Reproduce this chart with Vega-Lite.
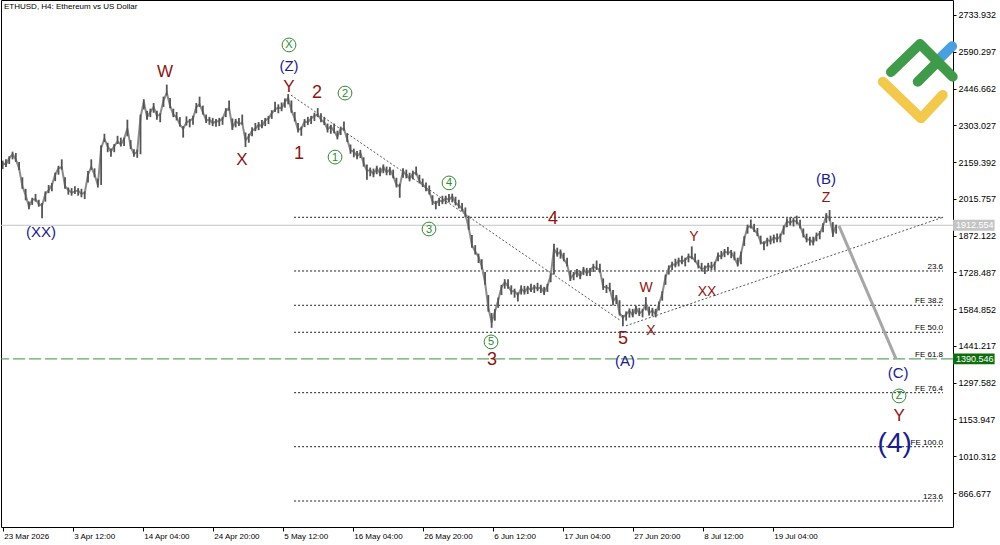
{
"$schema":"https://vega.github.io/schema/vega-lite/v6.json",
"width":952,"height":527,"autosize":"none",
"padding":{"left":1,"top":0,"right":47,"bottom":18},
"background":"#ffffff",
"config":{"view":{"stroke":"#000000","strokeWidth":1},"font":"Liberation Sans"},
"datasets":{
"bars":[
{"d":"2026-03-23T20:00Z","h":2165,"l":2132,"c":2155},
{"d":"2026-03-24T08:00Z","h":2170,"l":2140,"c":2150},
{"d":"2026-03-24T20:00Z","h":2182,"l":2152,"c":2175},
{"d":"2026-03-25T08:00Z","h":2200,"l":2170,"c":2190},
{"d":"2026-03-25T20:00Z","h":2195,"l":2160,"c":2170},
{"d":"2026-03-26T08:00Z","h":2160,"l":2128,"c":2135},
{"d":"2026-03-26T20:00Z","h":2100,"l":2055,"c":2065},
{"d":"2026-03-27T08:00Z","h":2055,"l":2010,"c":2030},
{"d":"2026-03-27T20:00Z","h":2005,"l":1975,"c":1985},
{"d":"2026-03-28T08:00Z","h":2020,"l":1992,"c":2012},
{"d":"2026-03-28T20:00Z","h":2035,"l":2005,"c":2015},
{"d":"2026-03-29T08:00Z","h":2012,"l":1985,"c":1995},
{"d":"2026-03-29T20:00Z","h":2000,"l":1940,"c":1990},
{"d":"2026-03-30T08:00Z","h":2045,"l":2005,"c":2035},
{"d":"2026-03-30T20:00Z","h":2070,"l":2038,"c":2050},
{"d":"2026-03-31T08:00Z","h":2078,"l":2045,"c":2070},
{"d":"2026-03-31T20:00Z","h":2118,"l":2085,"c":2110},
{"d":"2026-04-01T08:00Z","h":2145,"l":2110,"c":2135},
{"d":"2026-04-01T20:00Z","h":2170,"l":2130,"c":2140},
{"d":"2026-04-02T08:00Z","h":2100,"l":2055,"c":2065},
{"d":"2026-04-02T20:00Z","h":2060,"l":2032,"c":2050},
{"d":"2026-04-03T08:00Z","h":2058,"l":2028,"c":2040},
{"d":"2026-04-03T20:00Z","h":2065,"l":2035,"c":2045},
{"d":"2026-04-04T08:00Z","h":2058,"l":2028,"c":2048},
{"d":"2026-04-04T20:00Z","h":2055,"l":2022,"c":2035},
{"d":"2026-04-05T08:00Z","h":2045,"l":2015,"c":2040},
{"d":"2026-04-05T20:00Z","h":2125,"l":2080,"c":2110},
{"d":"2026-04-06T08:00Z","h":2170,"l":2130,"c":2140},
{"d":"2026-04-06T20:00Z","h":2135,"l":2100,"c":2110},
{"d":"2026-04-07T08:00Z","h":2095,"l":2060,"c":2070},
{"d":"2026-04-07T20:00Z","h":2225,"l":2070,"c":2215},
{"d":"2026-04-08T08:00Z","h":2270,"l":2238,"c":2250},
{"d":"2026-04-08T20:00Z","h":2235,"l":2198,"c":2220},
{"d":"2026-04-09T08:00Z","h":2212,"l":2180,"c":2200},
{"d":"2026-04-09T20:00Z","h":2230,"l":2198,"c":2222},
{"d":"2026-04-10T08:00Z","h":2262,"l":2230,"c":2240},
{"d":"2026-04-10T20:00Z","h":2255,"l":2220,"c":2228},
{"d":"2026-04-11T08:00Z","h":2255,"l":2222,"c":2250},
{"d":"2026-04-11T20:00Z","h":2325,"l":2260,"c":2290},
{"d":"2026-04-12T08:00Z","h":2245,"l":2210,"c":2220},
{"d":"2026-04-12T20:00Z","h":2210,"l":2180,"c":2190},
{"d":"2026-04-13T08:00Z","h":2208,"l":2176,"c":2200},
{"d":"2026-04-13T20:00Z","h":2345,"l":2190,"c":2335},
{"d":"2026-04-14T08:00Z","h":2405,"l":2365,"c":2395},
{"d":"2026-04-14T20:00Z","h":2360,"l":2325,"c":2335},
{"d":"2026-04-15T08:00Z","h":2368,"l":2335,"c":2355},
{"d":"2026-04-15T20:00Z","h":2390,"l":2352,"c":2375},
{"d":"2026-04-16T08:00Z","h":2360,"l":2325,"c":2340},
{"d":"2026-04-16T20:00Z","h":2350,"l":2315,"c":2345},
{"d":"2026-04-17T08:00Z","h":2415,"l":2375,"c":2400},
{"d":"2026-04-17T20:00Z","h":2462,"l":2420,"c":2430},
{"d":"2026-04-18T08:00Z","h":2410,"l":2370,"c":2380},
{"d":"2026-04-18T20:00Z","h":2368,"l":2335,"c":2345},
{"d":"2026-04-19T08:00Z","h":2355,"l":2322,"c":2335},
{"d":"2026-04-19T20:00Z","h":2335,"l":2298,"c":2305},
{"d":"2026-04-20T08:00Z","h":2300,"l":2255,"c":2290},
{"d":"2026-04-20T20:00Z","h":2338,"l":2302,"c":2315},
{"d":"2026-04-21T08:00Z","h":2328,"l":2295,"c":2320},
{"d":"2026-04-21T20:00Z","h":2340,"l":2305,"c":2330},
{"d":"2026-04-22T08:00Z","h":2390,"l":2350,"c":2375},
{"d":"2026-04-22T20:00Z","h":2415,"l":2375,"c":2385},
{"d":"2026-04-23T08:00Z","h":2380,"l":2345,"c":2355},
{"d":"2026-04-23T20:00Z","h":2345,"l":2312,"c":2322},
{"d":"2026-04-24T08:00Z","h":2336,"l":2305,"c":2325},
{"d":"2026-04-24T20:00Z","h":2332,"l":2300,"c":2312},
{"d":"2026-04-25T08:00Z","h":2328,"l":2297,"c":2318},
{"d":"2026-04-25T20:00Z","h":2332,"l":2300,"c":2320},
{"d":"2026-04-26T08:00Z","h":2336,"l":2305,"c":2328},
{"d":"2026-04-26T20:00Z","h":2370,"l":2335,"c":2360},
{"d":"2026-04-27T08:00Z","h":2400,"l":2360,"c":2370},
{"d":"2026-04-27T20:00Z","h":2330,"l":2285,"c":2295},
{"d":"2026-04-28T08:00Z","h":2328,"l":2295,"c":2318},
{"d":"2026-04-28T20:00Z","h":2332,"l":2300,"c":2310},
{"d":"2026-04-29T08:00Z","h":2345,"l":2305,"c":2312},
{"d":"2026-04-29T20:00Z","h":2275,"l":2218,"c":2245},
{"d":"2026-04-30T08:00Z","h":2270,"l":2235,"c":2260},
{"d":"2026-04-30T20:00Z","h":2295,"l":2260,"c":2282},
{"d":"2026-05-01T08:00Z","h":2312,"l":2280,"c":2290},
{"d":"2026-05-01T20:00Z","h":2316,"l":2284,"c":2305},
{"d":"2026-05-02T08:00Z","h":2324,"l":2292,"c":2300},
{"d":"2026-05-02T20:00Z","h":2332,"l":2300,"c":2322},
{"d":"2026-05-03T08:00Z","h":2340,"l":2308,"c":2330},
{"d":"2026-05-03T20:00Z","h":2362,"l":2328,"c":2350},
{"d":"2026-05-04T08:00Z","h":2395,"l":2355,"c":2365},
{"d":"2026-05-04T20:00Z","h":2385,"l":2350,"c":2372},
{"d":"2026-05-05T08:00Z","h":2392,"l":2358,"c":2370},
{"d":"2026-05-05T20:00Z","h":2408,"l":2372,"c":2395},
{"d":"2026-05-06T08:00Z","h":2425,"l":2385,"c":2410},
{"d":"2026-05-06T20:00Z","h":2400,"l":2352,"c":2360},
{"d":"2026-05-07T08:00Z","h":2355,"l":2318,"c":2330},
{"d":"2026-05-07T20:00Z","h":2312,"l":2275,"c":2285},
{"d":"2026-05-08T08:00Z","h":2298,"l":2262,"c":2290},
{"d":"2026-05-08T20:00Z","h":2328,"l":2296,"c":2318},
{"d":"2026-05-09T08:00Z","h":2336,"l":2304,"c":2315},
{"d":"2026-05-09T20:00Z","h":2340,"l":2308,"c":2330},
{"d":"2026-05-10T08:00Z","h":2352,"l":2320,"c":2340},
{"d":"2026-05-10T20:00Z","h":2370,"l":2335,"c":2345},
{"d":"2026-05-11T08:00Z","h":2350,"l":2315,"c":2325},
{"d":"2026-05-11T20:00Z","h":2336,"l":2304,"c":2315},
{"d":"2026-05-12T08:00Z","h":2310,"l":2275,"c":2288},
{"d":"2026-05-12T20:00Z","h":2305,"l":2270,"c":2298},
{"d":"2026-05-13T08:00Z","h":2310,"l":2272,"c":2280},
{"d":"2026-05-13T20:00Z","h":2282,"l":2248,"c":2258},
{"d":"2026-05-14T08:00Z","h":2298,"l":2265,"c":2290},
{"d":"2026-05-14T20:00Z","h":2318,"l":2282,"c":2290},
{"d":"2026-05-15T08:00Z","h":2272,"l":2238,"c":2248},
{"d":"2026-05-15T20:00Z","h":2228,"l":2192,"c":2205},
{"d":"2026-05-16T08:00Z","h":2212,"l":2178,"c":2200},
{"d":"2026-05-16T20:00Z","h":2203,"l":2170,"c":2182},
{"d":"2026-05-17T08:00Z","h":2207,"l":2175,"c":2195},
{"d":"2026-05-17T20:00Z","h":2178,"l":2142,"c":2155},
{"d":"2026-05-18T08:00Z","h":2150,"l":2090,"c":2125},
{"d":"2026-05-18T20:00Z","h":2138,"l":2104,"c":2128},
{"d":"2026-05-19T08:00Z","h":2134,"l":2100,"c":2112},
{"d":"2026-05-19T20:00Z","h":2145,"l":2112,"c":2135},
{"d":"2026-05-20T08:00Z","h":2138,"l":2104,"c":2115},
{"d":"2026-05-20T20:00Z","h":2150,"l":2116,"c":2140},
{"d":"2026-05-21T08:00Z","h":2142,"l":2108,"c":2120},
{"d":"2026-05-21T20:00Z","h":2140,"l":2108,"c":2130},
{"d":"2026-05-22T08:00Z","h":2130,"l":2096,"c":2105},
{"d":"2026-05-22T20:00Z","h":2098,"l":2060,"c":2070},
{"d":"2026-05-23T08:00Z","h":2075,"l":2020,"c":2065},
{"d":"2026-05-23T20:00Z","h":2135,"l":2098,"c":2125},
{"d":"2026-05-24T08:00Z","h":2130,"l":2096,"c":2108},
{"d":"2026-05-24T20:00Z","h":2118,"l":2084,"c":2095},
{"d":"2026-05-25T08:00Z","h":2126,"l":2092,"c":2115},
{"d":"2026-05-25T20:00Z","h":2142,"l":2108,"c":2118},
{"d":"2026-05-26T08:00Z","h":2110,"l":2076,"c":2085},
{"d":"2026-05-26T20:00Z","h":2095,"l":2062,"c":2072},
{"d":"2026-05-27T08:00Z","h":2080,"l":2045,"c":2058},
{"d":"2026-05-27T20:00Z","h":2068,"l":2033,"c":2045},
{"d":"2026-05-28T08:00Z","h":2030,"l":1992,"c":2005},
{"d":"2026-05-28T20:00Z","h":2008,"l":1975,"c":1998},
{"d":"2026-05-29T08:00Z","h":2020,"l":1988,"c":2010},
{"d":"2026-05-29T20:00Z","h":2028,"l":1995,"c":2005},
{"d":"2026-05-30T08:00Z","h":2028,"l":1995,"c":2018},
{"d":"2026-05-30T20:00Z","h":2035,"l":2002,"c":2012},
{"d":"2026-05-31T08:00Z","h":2036,"l":2002,"c":2025},
{"d":"2026-05-31T20:00Z","h":2024,"l":1990,"c":2000},
{"d":"2026-06-01T08:00Z","h":2012,"l":1978,"c":1990},
{"d":"2026-06-01T20:00Z","h":2000,"l":1966,"c":1978},
{"d":"2026-06-02T08:00Z","h":1982,"l":1945,"c":1955},
{"d":"2026-06-02T20:00Z","h":1950,"l":1895,"c":1905},
{"d":"2026-06-03T08:00Z","h":1875,"l":1825,"c":1835},
{"d":"2026-06-03T20:00Z","h":1835,"l":1798,"c":1810},
{"d":"2026-06-04T08:00Z","h":1802,"l":1765,"c":1790},
{"d":"2026-06-04T20:00Z","h":1780,"l":1740,"c":1752},
{"d":"2026-06-05T08:00Z","h":1730,"l":1680,"c":1690},
{"d":"2026-06-05T20:00Z","h":1640,"l":1575,"c":1590},
{"d":"2026-06-06T08:00Z","h":1570,"l":1512,"c":1535},
{"d":"2026-06-06T20:00Z","h":1585,"l":1540,"c":1575},
{"d":"2026-06-07T08:00Z","h":1630,"l":1590,"c":1620},
{"d":"2026-06-07T20:00Z","h":1680,"l":1640,"c":1670},
{"d":"2026-06-08T08:00Z","h":1702,"l":1665,"c":1690},
{"d":"2026-06-08T20:00Z","h":1702,"l":1665,"c":1675},
{"d":"2026-06-09T08:00Z","h":1678,"l":1642,"c":1655},
{"d":"2026-06-09T20:00Z","h":1665,"l":1630,"c":1655},
{"d":"2026-06-10T08:00Z","h":1650,"l":1615,"c":1640},
{"d":"2026-06-10T20:00Z","h":1678,"l":1642,"c":1665},
{"d":"2026-06-11T08:00Z","h":1676,"l":1642,"c":1652},
{"d":"2026-06-11T20:00Z","h":1676,"l":1644,"c":1668},
{"d":"2026-06-12T08:00Z","h":1684,"l":1652,"c":1660},
{"d":"2026-06-12T20:00Z","h":1680,"l":1648,"c":1672},
{"d":"2026-06-13T08:00Z","h":1688,"l":1655,"c":1665},
{"d":"2026-06-13T20:00Z","h":1680,"l":1648,"c":1670},
{"d":"2026-06-14T08:00Z","h":1672,"l":1640,"c":1650},
{"d":"2026-06-14T20:00Z","h":1684,"l":1652,"c":1675},
{"d":"2026-06-15T08:00Z","h":1725,"l":1690,"c":1715},
{"d":"2026-06-15T20:00Z","h":1840,"l":1720,"c":1820},
{"d":"2026-06-16T08:00Z","h":1825,"l":1790,"c":1800},
{"d":"2026-06-16T20:00Z","h":1818,"l":1782,"c":1808},
{"d":"2026-06-17T08:00Z","h":1805,"l":1772,"c":1780},
{"d":"2026-06-17T20:00Z","h":1786,"l":1752,"c":1760},
{"d":"2026-06-18T08:00Z","h":1735,"l":1695,"c":1705},
{"d":"2026-06-18T20:00Z","h":1730,"l":1698,"c":1720},
{"d":"2026-06-19T08:00Z","h":1742,"l":1710,"c":1730},
{"d":"2026-06-19T20:00Z","h":1735,"l":1702,"c":1712},
{"d":"2026-06-20T08:00Z","h":1750,"l":1718,"c":1740},
{"d":"2026-06-20T20:00Z","h":1746,"l":1714,"c":1725},
{"d":"2026-06-21T08:00Z","h":1746,"l":1714,"c":1738},
{"d":"2026-06-21T20:00Z","h":1762,"l":1730,"c":1750},
{"d":"2026-06-22T08:00Z","h":1775,"l":1738,"c":1745},
{"d":"2026-06-22T20:00Z","h":1762,"l":1728,"c":1738},
{"d":"2026-06-23T08:00Z","h":1705,"l":1660,"c":1672},
{"d":"2026-06-23T20:00Z","h":1680,"l":1648,"c":1670},
{"d":"2026-06-24T08:00Z","h":1688,"l":1655,"c":1665},
{"d":"2026-06-24T20:00Z","h":1660,"l":1600,"c":1615},
{"d":"2026-06-25T08:00Z","h":1640,"l":1605,"c":1632},
{"d":"2026-06-25T20:00Z","h":1620,"l":1560,"c":1568},
{"d":"2026-06-26T08:00Z","h":1562,"l":1518,"c":1552},
{"d":"2026-06-26T20:00Z","h":1576,"l":1540,"c":1565},
{"d":"2026-06-27T08:00Z","h":1588,"l":1552,"c":1578},
{"d":"2026-06-27T20:00Z","h":1586,"l":1553,"c":1562},
{"d":"2026-06-28T08:00Z","h":1598,"l":1565,"c":1590},
{"d":"2026-06-28T20:00Z","h":1590,"l":1558,"c":1568},
{"d":"2026-06-29T08:00Z","h":1586,"l":1553,"c":1578},
{"d":"2026-06-29T20:00Z","h":1632,"l":1580,"c":1605},
{"d":"2026-06-30T08:00Z","h":1595,"l":1560,"c":1570},
{"d":"2026-06-30T20:00Z","h":1590,"l":1558,"c":1580},
{"d":"2026-07-01T08:00Z","h":1586,"l":1553,"c":1564},
{"d":"2026-07-01T20:00Z","h":1615,"l":1580,"c":1605},
{"d":"2026-07-02T08:00Z","h":1655,"l":1618,"c":1645},
{"d":"2026-07-02T20:00Z","h":1720,"l":1680,"c":1710},
{"d":"2026-07-03T08:00Z","h":1756,"l":1720,"c":1745},
{"d":"2026-07-03T20:00Z","h":1770,"l":1738,"c":1760},
{"d":"2026-07-04T08:00Z","h":1782,"l":1748,"c":1758},
{"d":"2026-07-04T20:00Z","h":1786,"l":1752,"c":1775},
{"d":"2026-07-05T08:00Z","h":1794,"l":1760,"c":1770},
{"d":"2026-07-05T20:00Z","h":1786,"l":1752,"c":1778},
{"d":"2026-07-06T08:00Z","h":1802,"l":1768,"c":1790},
{"d":"2026-07-06T20:00Z","h":1830,"l":1780,"c":1788},
{"d":"2026-07-07T08:00Z","h":1802,"l":1768,"c":1775},
{"d":"2026-07-07T20:00Z","h":1778,"l":1744,"c":1755},
{"d":"2026-07-08T08:00Z","h":1766,"l":1732,"c":1742},
{"d":"2026-07-08T20:00Z","h":1755,"l":1722,"c":1745},
{"d":"2026-07-09T08:00Z","h":1766,"l":1734,"c":1755},
{"d":"2026-07-09T20:00Z","h":1770,"l":1738,"c":1748},
{"d":"2026-07-10T08:00Z","h":1770,"l":1738,"c":1762},
{"d":"2026-07-10T20:00Z","h":1806,"l":1772,"c":1795},
{"d":"2026-07-11T08:00Z","h":1812,"l":1780,"c":1790},
{"d":"2026-07-11T20:00Z","h":1820,"l":1788,"c":1810},
{"d":"2026-07-12T08:00Z","h":1828,"l":1796,"c":1805},
{"d":"2026-07-12T20:00Z","h":1816,"l":1784,"c":1808},
{"d":"2026-07-13T08:00Z","h":1810,"l":1776,"c":1785},
{"d":"2026-07-13T20:00Z","h":1786,"l":1752,"c":1760},
{"d":"2026-07-14T08:00Z","h":1810,"l":1760,"c":1800},
{"d":"2026-07-14T20:00Z","h":1870,"l":1832,"c":1860},
{"d":"2026-07-15T08:00Z","h":1915,"l":1880,"c":1905},
{"d":"2026-07-15T20:00Z","h":1935,"l":1900,"c":1910},
{"d":"2026-07-16T08:00Z","h":1918,"l":1886,"c":1895},
{"d":"2026-07-16T20:00Z","h":1902,"l":1870,"c":1880},
{"d":"2026-07-17T08:00Z","h":1872,"l":1838,"c":1848},
{"d":"2026-07-17T20:00Z","h":1850,"l":1815,"c":1840},
{"d":"2026-07-18T08:00Z","h":1864,"l":1830,"c":1855},
{"d":"2026-07-18T20:00Z","h":1872,"l":1838,"c":1850},
{"d":"2026-07-19T08:00Z","h":1876,"l":1842,"c":1866},
{"d":"2026-07-19T20:00Z","h":1880,"l":1846,"c":1858},
{"d":"2026-07-20T08:00Z","h":1880,"l":1846,"c":1870},
{"d":"2026-07-20T20:00Z","h":1912,"l":1876,"c":1900},
{"d":"2026-07-21T08:00Z","h":1940,"l":1905,"c":1928},
{"d":"2026-07-21T20:00Z","h":1945,"l":1912,"c":1922},
{"d":"2026-07-22T08:00Z","h":1942,"l":1908,"c":1932},
{"d":"2026-07-22T20:00Z","h":1950,"l":1916,"c":1926},
{"d":"2026-07-23T08:00Z","h":1934,"l":1900,"c":1910},
{"d":"2026-07-23T20:00Z","h":1900,"l":1865,"c":1875},
{"d":"2026-07-24T08:00Z","h":1880,"l":1846,"c":1858},
{"d":"2026-07-24T20:00Z","h":1868,"l":1834,"c":1856},
{"d":"2026-07-25T08:00Z","h":1868,"l":1834,"c":1845},
{"d":"2026-07-25T20:00Z","h":1884,"l":1850,"c":1872},
{"d":"2026-07-26T08:00Z","h":1890,"l":1858,"c":1880},
{"d":"2026-07-26T20:00Z","h":1920,"l":1885,"c":1910},
{"d":"2026-07-27T08:00Z","h":1960,"l":1922,"c":1950},
{"d":"2026-07-27T20:00Z","h":1972,"l":1930,"c":1940},
{"d":"2026-07-28T08:00Z","h":1925,"l":1867,"c":1880},
{"d":"2026-07-28T20:00Z","h":1915,"l":1880,"c":1912}
],
"lev":[
{"d":"2026-05-07T05:36Z","d2":"2026-08-14T02:50Z","p":1943.7},
{"d":"2026-05-07T05:36Z","d2":"2026-08-14T02:50Z","p":1734},
{"d":"2026-05-07T05:36Z","d2":"2026-08-14T02:50Z","p":1600},
{"d":"2026-05-07T05:36Z","d2":"2026-08-14T02:50Z","p":1494.5},
{"d":"2026-05-07T05:36Z","d2":"2026-08-14T02:50Z","p":1258.6},
{"d":"2026-05-07T05:36Z","d2":"2026-08-14T02:50Z","p":1047.7},
{"d":"2026-05-07T05:36Z","d2":"2026-08-14T02:50Z","p":835.6}
],
"fe":[
{"d":"2026-08-14T02:50Z","p":1734,"t":"23.6"},
{"d":"2026-08-14T02:50Z","p":1600,"t":"FE 38.2"},
{"d":"2026-08-14T02:50Z","p":1494.5,"t":"FE 50.0"},
{"d":"2026-08-14T02:50Z","p":1390.546,"t":"FE 61.8"},
{"d":"2026-08-14T02:50Z","p":1258.6,"t":"FE 76.4"},
{"d":"2026-08-14T02:50Z","p":1047.7,"t":"FE 100.0"},
{"d":"2026-08-14T02:50Z","p":835.6,"t":"123.6"}
],
"diag":[
{"g":"a","d":"2026-05-06T18:20Z","p":2421},
{"g":"a","d":"2026-06-26T01:20Z","p":1539},
{"g":"b","d":"2026-06-26T19:30Z","p":1520},
{"g":"b","d":"2026-08-14T02:50Z","p":1944}
],
"proj":[
{"d":"2026-07-29T06:20Z","p":1910},
{"d":"2026-08-06T22:50Z","p":1390.5}
],
"ann":[
{"k":"r1","t":"W","d":"2026-04-17T14:00Z","p":2511},
{"k":"r1","t":"X","d":"2026-04-29T07:00Z","p":2167.5},
{"k":"r1","t":"Y","d":"2026-05-06T11:00Z","p":2452.7},
{"k":"r1","t":"Y","d":"2026-08-07T10:00Z","p":1167.6},
{"k":"r2","t":"W","d":"2026-06-29T20:40Z","p":1667.6},
{"k":"r2","t":"X","d":"2026-06-30T15:00Z","p":1499.6},
{"k":"r2","t":"Y","d":"2026-07-07T04:10Z","p":1866.8},
{"k":"r2","t":"XX","d":"2026-07-09T03:40Z","p":1652},
{"k":"r2","t":"Z","d":"2026-07-27T06:50Z","p":2019},
{"k":"n","t":"1","d":"2026-05-07T23:30Z","p":2191},
{"k":"n","t":"2","d":"2026-05-10T17:36Z","p":2429},
{"k":"n","t":"3","d":"2026-06-06T09:30Z","p":1386},
{"k":"n","t":"4","d":"2026-06-15T16:40Z","p":1937},
{"k":"n","t":"5","d":"2026-06-26T08:30Z","p":1468},
{"k":"b","t":"(XX)","d":"2026-03-29T16:10Z","p":1886},
{"k":"b","t":"(Z)","d":"2026-05-06T11:00Z","p":2535},
{"k":"b","t":"(A)","d":"2026-06-26T16:00Z","p":1382},
{"k":"b","t":"(B)","d":"2026-07-27T06:50Z","p":2093},
{"k":"b","t":"(C)","d":"2026-08-07T06:20Z","p":1336},
{"k":"B","t":"(4)","d":"2026-08-06T18:00Z","p":1058},
{"k":"g","t":"X","d":"2026-05-06T11:00Z","p":2617},
{"k":"g","t":"2","d":"2026-05-14T23:50Z","p":2429},
{"k":"g","t":"1","d":"2026-05-13T11:24Z","p":2179},
{"k":"g","t":"4","d":"2026-05-30T20:15Z","p":2078},
{"k":"g","t":"3","d":"2026-05-27T19:00Z","p":1898},
{"k":"g","t":"5","d":"2026-06-06T05:50Z","p":1457},
{"k":"g","t":"Z","d":"2026-08-07T10:00Z","p":1246}
],
"logo":[
{"s":"y","d":"2026-08-04T22:24Z","p":2473.4},
{"s":"y","d":"2026-08-10T18:25Z","p":2330.4},
{"s":"y","d":"2026-08-14T01:35Z","p":2421.4},
{"s":"b","d":"2026-08-13T06:00Z","p":2555},
{"s":"b","d":"2026-08-15T12:00Z","p":2612},
{"s":"g1","d":"2026-08-06T04:36Z","p":2511.3},
{"s":"g1","d":"2026-08-10T14:40Z","p":2620.6},
{"s":"g1","d":"2026-08-15T14:10Z","p":2492.9},
{"s":"g2","d":"2026-08-10T06:20Z","p":2473.4},
{"s":"g2","d":"2026-08-13T07:30Z","p":2551.5}
],
"box":[
{"k":"cur","p":1912.554},
{"k":"lvl","p":1390.546}
]
},
"layer":[
{"data":{"values":[{"p":1912.554}]},
 "mark":{"type":"rule","color":"#c4c4c4","strokeWidth":1},
 "encoding":{"y":{"field":"p","type":"quantitative",
   "scale":{"domain":[734,2792.5],"nice":false,"zero":false},
   "axis":{"orient":"right","values":[866.677,1010.312,1153.947,1297.582,1441.217,1584.852,1728.487,1872.122,2015.757,2159.392,2303.027,2446.662,2590.297,2733.932],
     "format":".3f","title":null,"grid":false,"domain":false,"ticks":true,"tickSize":3,"tickColor":"#000000",
     "labelFont":"Liberation Sans","labelFontSize":9,"labelColor":"#000000","labelPadding":2,"labelBaseline":"middle","labelAlign":"left"}}}},
{"data":{"name":"lev"},
 "mark":{"type":"rule","color":"#222222","strokeDash":[2,2],"strokeWidth":1},
 "encoding":{"x":{"field":"d","type":"temporal",
   "scale":{"type":"utc","domain":[{"year":2026,"month":3,"date":23,"hours":13,"minutes":48,"utc":true},{"year":2026,"month":8,"date":15,"hours":15,"minutes":18,"utc":true}],"nice":false},
   "axis":{"orient":"bottom","title":null,"grid":false,"domain":false,"ticks":true,"tickSize":4,"tickColor":"#000000",
     "values":[{"year":2026,"month":3,"date":23,"hours":20,"utc":true},{"year":2026,"month":4,"date":3,"hours":12,"utc":true},{"year":2026,"month":4,"date":14,"hours":4,"utc":true},{"year":2026,"month":4,"date":24,"hours":20,"utc":true},{"year":2026,"month":5,"date":5,"hours":12,"utc":true},{"year":2026,"month":5,"date":16,"hours":4,"utc":true},{"year":2026,"month":5,"date":26,"hours":20,"utc":true},{"year":2026,"month":6,"date":6,"hours":12,"utc":true},{"year":2026,"month":6,"date":17,"hours":4,"utc":true},{"year":2026,"month":6,"date":27,"hours":20,"utc":true},{"year":2026,"month":7,"date":8,"hours":12,"utc":true},{"year":2026,"month":7,"date":19,"hours":4,"utc":true}],
     "labelExpr":"utcdate(datum.value)==23 && utcmonth(datum.value)==2 ? utcFormat(datum.value, '%-d %b %Y') : utcFormat(datum.value, '%-d %b %H:%M')",
     "labelFont":"Liberation Sans","labelFontSize":8,"labelColor":"#000000","labelAlign":"left","labelBaseline":"top","labelPadding":1,"labelOffset":1,"labelOverlap":false,"labelFlush":false,"labelBound":false}},
   "x2":{"field":"d2"},
   "y":{"field":"p","type":"quantitative","axis":{"title":null}}}},
{"data":{"values":[{"p":1390.546}]},
 "mark":{"type":"rule","color":"#3d8b3d","strokeDash":[12,4],"strokeWidth":1},
 "encoding":{"y":{"field":"p","type":"quantitative","axis":{"title":null}}}},
{"data":{"name":"diag"},
 "mark":{"type":"line","color":"#555555","strokeDash":[2,2],"strokeWidth":1},
 "encoding":{"x":{"field":"d","type":"temporal","axis":{"title":null}},"y":{"field":"p","type":"quantitative","axis":{"title":null}},"detail":{"field":"g"}}},
{"data":{"name":"bars"},
 "mark":{"type":"line","color":"#8c8c8c","strokeWidth":2},
 "encoding":{"x":{"field":"d","type":"temporal","axis":{"title":null}},"y":{"field":"c","type":"quantitative","axis":{"title":null}}}},
{"data":{"name":"bars"},
 "mark":{"type":"rule","color":"#555555","strokeWidth":1.8},
 "encoding":{"x":{"field":"d","type":"temporal","axis":{"title":null}},"y":{"field":"l","type":"quantitative","axis":{"title":null}},"y2":{"field":"h"}}},
{"data":{"name":"proj"},
 "mark":{"type":"line","color":"#a6a6a6","strokeWidth":3},
 "encoding":{"x":{"field":"d","type":"temporal","axis":{"title":null}},"y":{"field":"p","type":"quantitative","axis":{"title":null}}}},
{"data":{"name":"fe"},
 "mark":{"type":"text","align":"right","baseline":"alphabetic","dy":-2,"fontSize":8,"color":"#000000","font":"Liberation Sans"},
 "encoding":{"x":{"field":"d","type":"temporal","axis":{"title":null}},"y":{"field":"p","type":"quantitative","axis":{"title":null}},"text":{"field":"t"}}},
{"data":{"name":"ann"},"transform":[{"filter":"datum.k=='r1'"}],
 "mark":{"type":"text","align":"center","baseline":"middle","fontSize":17,"color":"#8c1515","font":"Liberation Sans"},
 "encoding":{"x":{"field":"d","type":"temporal","axis":{"title":null}},"y":{"field":"p","type":"quantitative","axis":{"title":null}},"text":{"field":"t"}}},
{"data":{"name":"ann"},"transform":[{"filter":"datum.k=='r2'"}],
 "mark":{"type":"text","align":"center","baseline":"middle","fontSize":14,"color":"#8c1515","font":"Liberation Sans"},
 "encoding":{"x":{"field":"d","type":"temporal","axis":{"title":null}},"y":{"field":"p","type":"quantitative","axis":{"title":null}},"text":{"field":"t"}}},
{"data":{"name":"ann"},"transform":[{"filter":"datum.k=='n'"}],
 "mark":{"type":"text","align":"center","baseline":"middle","fontSize":18,"color":"#8c1515","font":"Liberation Sans"},
 "encoding":{"x":{"field":"d","type":"temporal","axis":{"title":null}},"y":{"field":"p","type":"quantitative","axis":{"title":null}},"text":{"field":"t"}}},
{"data":{"name":"ann"},"transform":[{"filter":"datum.k=='b'"}],
 "mark":{"type":"text","align":"center","baseline":"middle","fontSize":15,"color":"#1c1c8c","font":"Liberation Sans"},
 "encoding":{"x":{"field":"d","type":"temporal","axis":{"title":null}},"y":{"field":"p","type":"quantitative","axis":{"title":null}},"text":{"field":"t"}}},
{"data":{"name":"ann"},"transform":[{"filter":"datum.k=='B'"}],
 "mark":{"type":"text","align":"center","baseline":"middle","fontSize":28,"color":"#1c1c8c","font":"Liberation Sans"},
 "encoding":{"x":{"field":"d","type":"temporal","axis":{"title":null}},"y":{"field":"p","type":"quantitative","axis":{"title":null}},"text":{"field":"t"}}},
{"data":{"name":"ann"},"transform":[{"filter":"datum.k=='g'"}],
 "mark":{"type":"point","shape":"circle","filled":false,"stroke":"#2e8b2e","strokeWidth":1,"size":190,"opacity":1},
 "encoding":{"x":{"field":"d","type":"temporal","axis":{"title":null}},"y":{"field":"p","type":"quantitative","axis":{"title":null}}}},
{"data":{"name":"ann"},"transform":[{"filter":"datum.k=='g'"}],
 "mark":{"type":"text","align":"center","baseline":"middle","dy":0.5,"fontSize":11,"color":"#2e8b2e","font":"Liberation Sans"},
 "encoding":{"x":{"field":"d","type":"temporal","axis":{"title":null}},"y":{"field":"p","type":"quantitative","axis":{"title":null}},"text":{"field":"t"}}},
{"data":{"name":"logo"},"transform":[{"filter":"datum.s=='y'"}],
 "mark":{"type":"line","color":"#f2c94c","strokeWidth":10,"strokeCap":"round","strokeJoin":"round"},
 "encoding":{"x":{"field":"d","type":"temporal","axis":{"title":null}},"y":{"field":"p","type":"quantitative","axis":{"title":null}}}},
{"data":{"name":"logo"},"transform":[{"filter":"datum.s=='b'"}],
 "mark":{"type":"line","color":"#4a9fe0","strokeWidth":10,"strokeCap":"round","strokeJoin":"round"},
 "encoding":{"x":{"field":"d","type":"temporal","axis":{"title":null}},"y":{"field":"p","type":"quantitative","axis":{"title":null}}}},
{"data":{"name":"logo"},"transform":[{"filter":"datum.s=='g1' || datum.s=='g2'"}],
 "mark":{"type":"line","color":"#3f9a4a","strokeWidth":10,"strokeCap":"round","strokeJoin":"round"},
 "encoding":{"x":{"field":"d","type":"temporal","axis":{"title":null}},"y":{"field":"p","type":"quantitative","axis":{"title":null}},"detail":{"field":"s"}}},
{"data":{"name":"box"},
 "mark":{"type":"point","filled":true,"opacity":1,"shape":"M0,-0.34H2.6V0.34H0Z","size":1024,"strokeWidth":0},
 "encoding":{"x":{"datum":{"year":2026,"month":8,"date":15,"hours":15,"minutes":18,"utc":true},"type":"temporal","axis":{"title":null}},
   "y":{"field":"p","type":"quantitative","axis":{"title":null}},
   "color":{"field":"k","type":"nominal","scale":{"domain":["cur","lvl"],"range":["#c4c4c4","#0e6e0e"]},"legend":null}}},
{"data":{"name":"box"},
 "mark":{"type":"text","align":"left","baseline":"middle","dx":3,"fontSize":9,"color":"#ffffff","font":"Liberation Sans"},
 "encoding":{"x":{"datum":{"year":2026,"month":8,"date":15,"hours":15,"minutes":18,"utc":true},"type":"temporal","axis":{"title":null}},
   "y":{"field":"p","type":"quantitative","axis":{"title":null}},
   "text":{"field":"p","type":"quantitative","format":".3f"}}},
{"data":{"values":[{"t":"ETHUSD, H4:  Ethereum vs US Dollar"}]},
 "mark":{"type":"text","align":"left","baseline":"middle","dx":3,"dy":7,"fontSize":8,"color":"#000000","font":"Liberation Sans"},
 "encoding":{"x":{"datum":{"year":2026,"month":3,"date":23,"hours":13,"minutes":48,"utc":true},"type":"temporal","axis":{"title":null}},
   "y":{"datum":2792.5,"type":"quantitative","axis":{"title":null}},
   "text":{"field":"t"}}}
]
}
